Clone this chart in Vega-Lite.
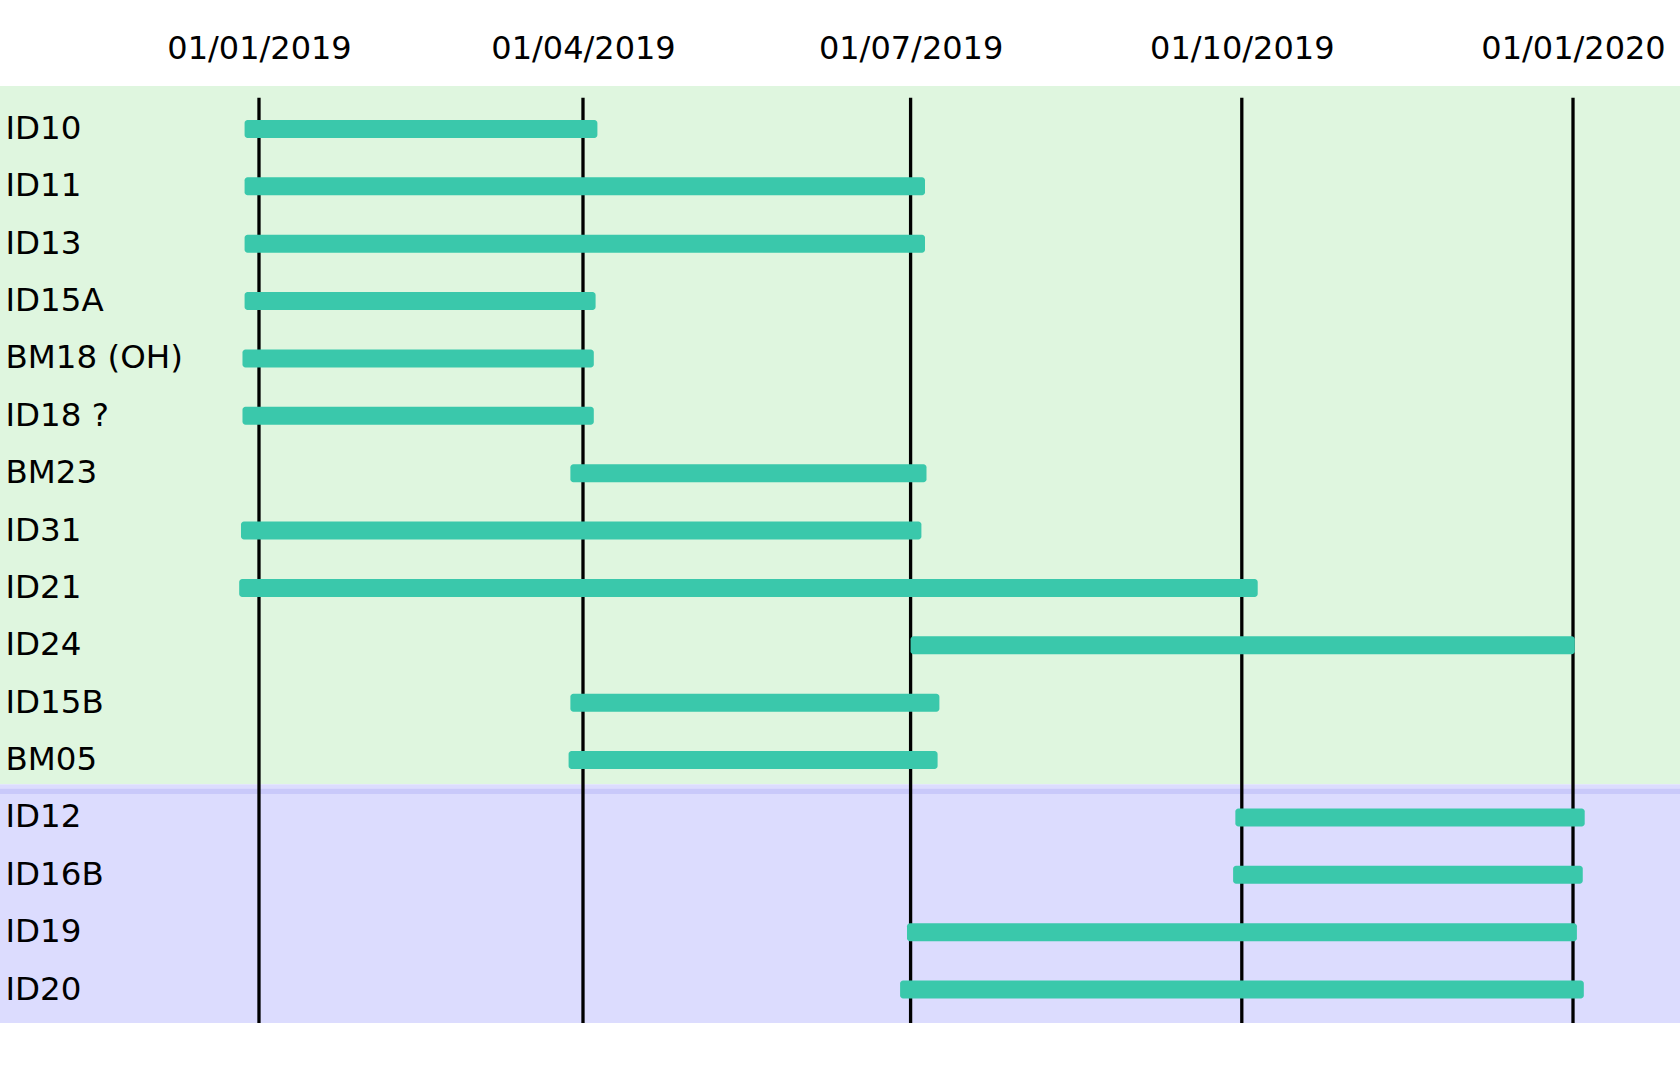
{
  "$schema": "https://vega.github.io/schema/vega-lite/v6.json",
  "width": 1680,
  "height": 937,
  "autosize": "none",
  "padding": {"left": 0, "top": 86, "right": 0, "bottom": 57},
  "background": "white",
  "config": {"view": {"stroke": null}, "font": "DejaVu Sans"},
  "datasets": {
    "zones": [
      {"zone": "zone 1", "y0": 0, "y1": 11.925, "xs": "2018-10-01T00:00:00", "xe": "2020-03-01T00:00:00"},
      {"zone": "zone 2", "y0": 11.925, "y1": 16, "xs": "2018-10-01T00:00:00", "xe": "2020-03-01T00:00:00"},
      {"zone": "separator", "y0": 12.0, "y1": 12.09, "xs": "2018-10-01T00:00:00", "xe": "2020-03-01T00:00:00"}
    ],
    "gridlines": [
      {"d": "2019-01-01T00:00:00", "y0": 0.2, "y1": 16},
      {"d": "2019-04-01T00:00:00", "y0": 0.2, "y1": 16},
      {"d": "2019-07-01T00:00:00", "y0": 0.2, "y1": 16},
      {"d": "2019-10-01T00:00:00", "y0": 0.2, "y1": 16},
      {"d": "2020-01-01T00:00:00", "y0": 0.2, "y1": 16}
    ],
    "tasks": [
      {"id": "ID10", "start": "2018-12-28T00:00:00", "end": "2019-04-05T00:00:00"},
      {"id": "ID11", "start": "2018-12-28T00:00:00", "end": "2019-07-05T00:00:00"},
      {"id": "ID13", "start": "2018-12-28T00:00:00", "end": "2019-07-05T00:00:00"},
      {"id": "ID15A", "start": "2018-12-28T00:00:00", "end": "2019-04-04T12:00:00"},
      {"id": "BM18 (OH)", "start": "2018-12-27T10:00:00", "end": "2019-04-04T00:00:00"},
      {"id": "ID18 ?", "start": "2018-12-27T10:00:00", "end": "2019-04-04T00:00:00"},
      {"id": "BM23", "start": "2019-03-28T12:00:00", "end": "2019-07-05T10:00:00"},
      {"id": "ID31", "start": "2018-12-27T00:00:00", "end": "2019-07-04T00:00:00"},
      {"id": "ID21", "start": "2018-12-26T12:00:00", "end": "2019-10-05T10:00:00"},
      {"id": "ID24", "start": "2019-07-01T00:00:00", "end": "2020-01-01T12:00:00"},
      {"id": "ID15B", "start": "2019-03-28T12:00:00", "end": "2019-07-09T00:00:00"},
      {"id": "BM05", "start": "2019-03-28T00:00:00", "end": "2019-07-08T12:00:00"},
      {"id": "ID12", "start": "2019-09-29T05:00:00", "end": "2020-01-04T06:00:00"},
      {"id": "ID16B", "start": "2019-09-28T14:00:00", "end": "2020-01-03T17:00:00"},
      {"id": "ID19", "start": "2019-06-30T00:00:00", "end": "2020-01-02T02:00:00"},
      {"id": "ID20", "start": "2019-06-28T02:00:00", "end": "2020-01-04T00:00:00"}
    ]
  },
  "layer": [
    {
      "data": {"name": "zones"},
      "mark": {"type": "rect", "clip": true},
      "encoding": {
        "x": {
          "field": "xs", "type": "temporal",
          "scale": {"domain": [{"year": 2018, "month": 10, "date": 21, "hours": 1, "minutes": 26}, {"year": 2020, "month": 1, "date": 30, "hours": 17, "minutes": 17}]},
          "axis": {"orient": "top", "title": null, "values": [{"year": 2019, "month": 1, "date": 1}, {"year": 2019, "month": 4, "date": 1}, {"year": 2019, "month": 7, "date": 1}, {"year": 2019, "month": 10, "date": 1}, {"year": 2020, "month": 1, "date": 1}], "format": "%d/%m/%Y", "labelFontSize": 32, "labelFont": "DejaVu Sans", "labelColor": "black", "labelPadding": 21, "labelLimit": 0, "ticks": false, "domain": false, "grid": false, "zindex": 1, "labelOverlap": false, "labelFlush": false}
        },
        "x2": {"field": "xe"},
        "y": {"field": "y0", "type": "quantitative", "scale": {"domain": [0, 16], "reverse": true, "nice": false, "zero": false}, "axis": null},
        "y2": {"field": "y1"},
        "color": {"field": "zone", "type": "nominal", "scale": {"domain": ["zone 1", "zone 2", "separator"], "range": ["#DFF6DF", "#DCDCFE", "#C9C9FA"]}, "legend": null}
      }
    },
    {
      "data": {"name": "gridlines"},
      "mark": {"type": "rule", "color": "black", "strokeWidth": 3.3},
      "encoding": {
        "x": {"field": "d", "type": "temporal", "axis": {"orient": "top", "title": null, "values": [{"year": 2019, "month": 1, "date": 1}, {"year": 2019, "month": 4, "date": 1}, {"year": 2019, "month": 7, "date": 1}, {"year": 2019, "month": 10, "date": 1}, {"year": 2020, "month": 1, "date": 1}], "format": "%d/%m/%Y", "labelFontSize": 32, "labelFont": "DejaVu Sans", "labelColor": "black", "labelPadding": 21, "labelLimit": 0, "ticks": false, "domain": false, "grid": false, "zindex": 1, "labelOverlap": false, "labelFlush": false}},
        "y": {"field": "y0", "type": "quantitative", "scale": {"domain": [0, 16], "reverse": true, "nice": false, "zero": false}, "axis": null},
        "y2": {"field": "y1"}
      }
    },
    {
      "data": {"name": "tasks"},
      "mark": {"type": "bar", "height": 18, "cornerRadius": 3, "color": "#3AC8AB"},
      "encoding": {
        "x": {"field": "start", "type": "temporal", "axis": {"orient": "top", "title": null, "values": [{"year": 2019, "month": 1, "date": 1}, {"year": 2019, "month": 4, "date": 1}, {"year": 2019, "month": 7, "date": 1}, {"year": 2019, "month": 10, "date": 1}, {"year": 2020, "month": 1, "date": 1}], "format": "%d/%m/%Y", "labelFontSize": 32, "labelFont": "DejaVu Sans", "labelColor": "black", "labelPadding": 21, "labelLimit": 0, "ticks": false, "domain": false, "grid": false, "zindex": 1, "labelOverlap": false, "labelFlush": false}},
        "x2": {"field": "end"},
        "y": {
          "field": "id", "type": "nominal",
          "scale": {"domain": ["ID10", "ID11", "ID13", "ID15A", "BM18 (OH)", "ID18 ?", "BM23", "ID31", "ID21", "ID24", "ID15B", "BM05", "ID12", "ID16B", "ID19", "ID20"], "paddingInner": 0, "paddingOuter": 0.165, "align": 0.75},
          "axis": {"orient": "left", "title": null, "ticks": false, "domain": false, "grid": false, "labelAlign": "left", "labelBaseline": "middle", "labelPadding": -5, "labelFontSize": 32.5, "labelFont": "DejaVu Sans", "labelColor": "black", "labelLimit": 500, "zindex": 1}
        }
      }
    }
  ],
  "resolve": {"scale": {"y": "independent"}, "axis": {"y": "independent"}}
}
